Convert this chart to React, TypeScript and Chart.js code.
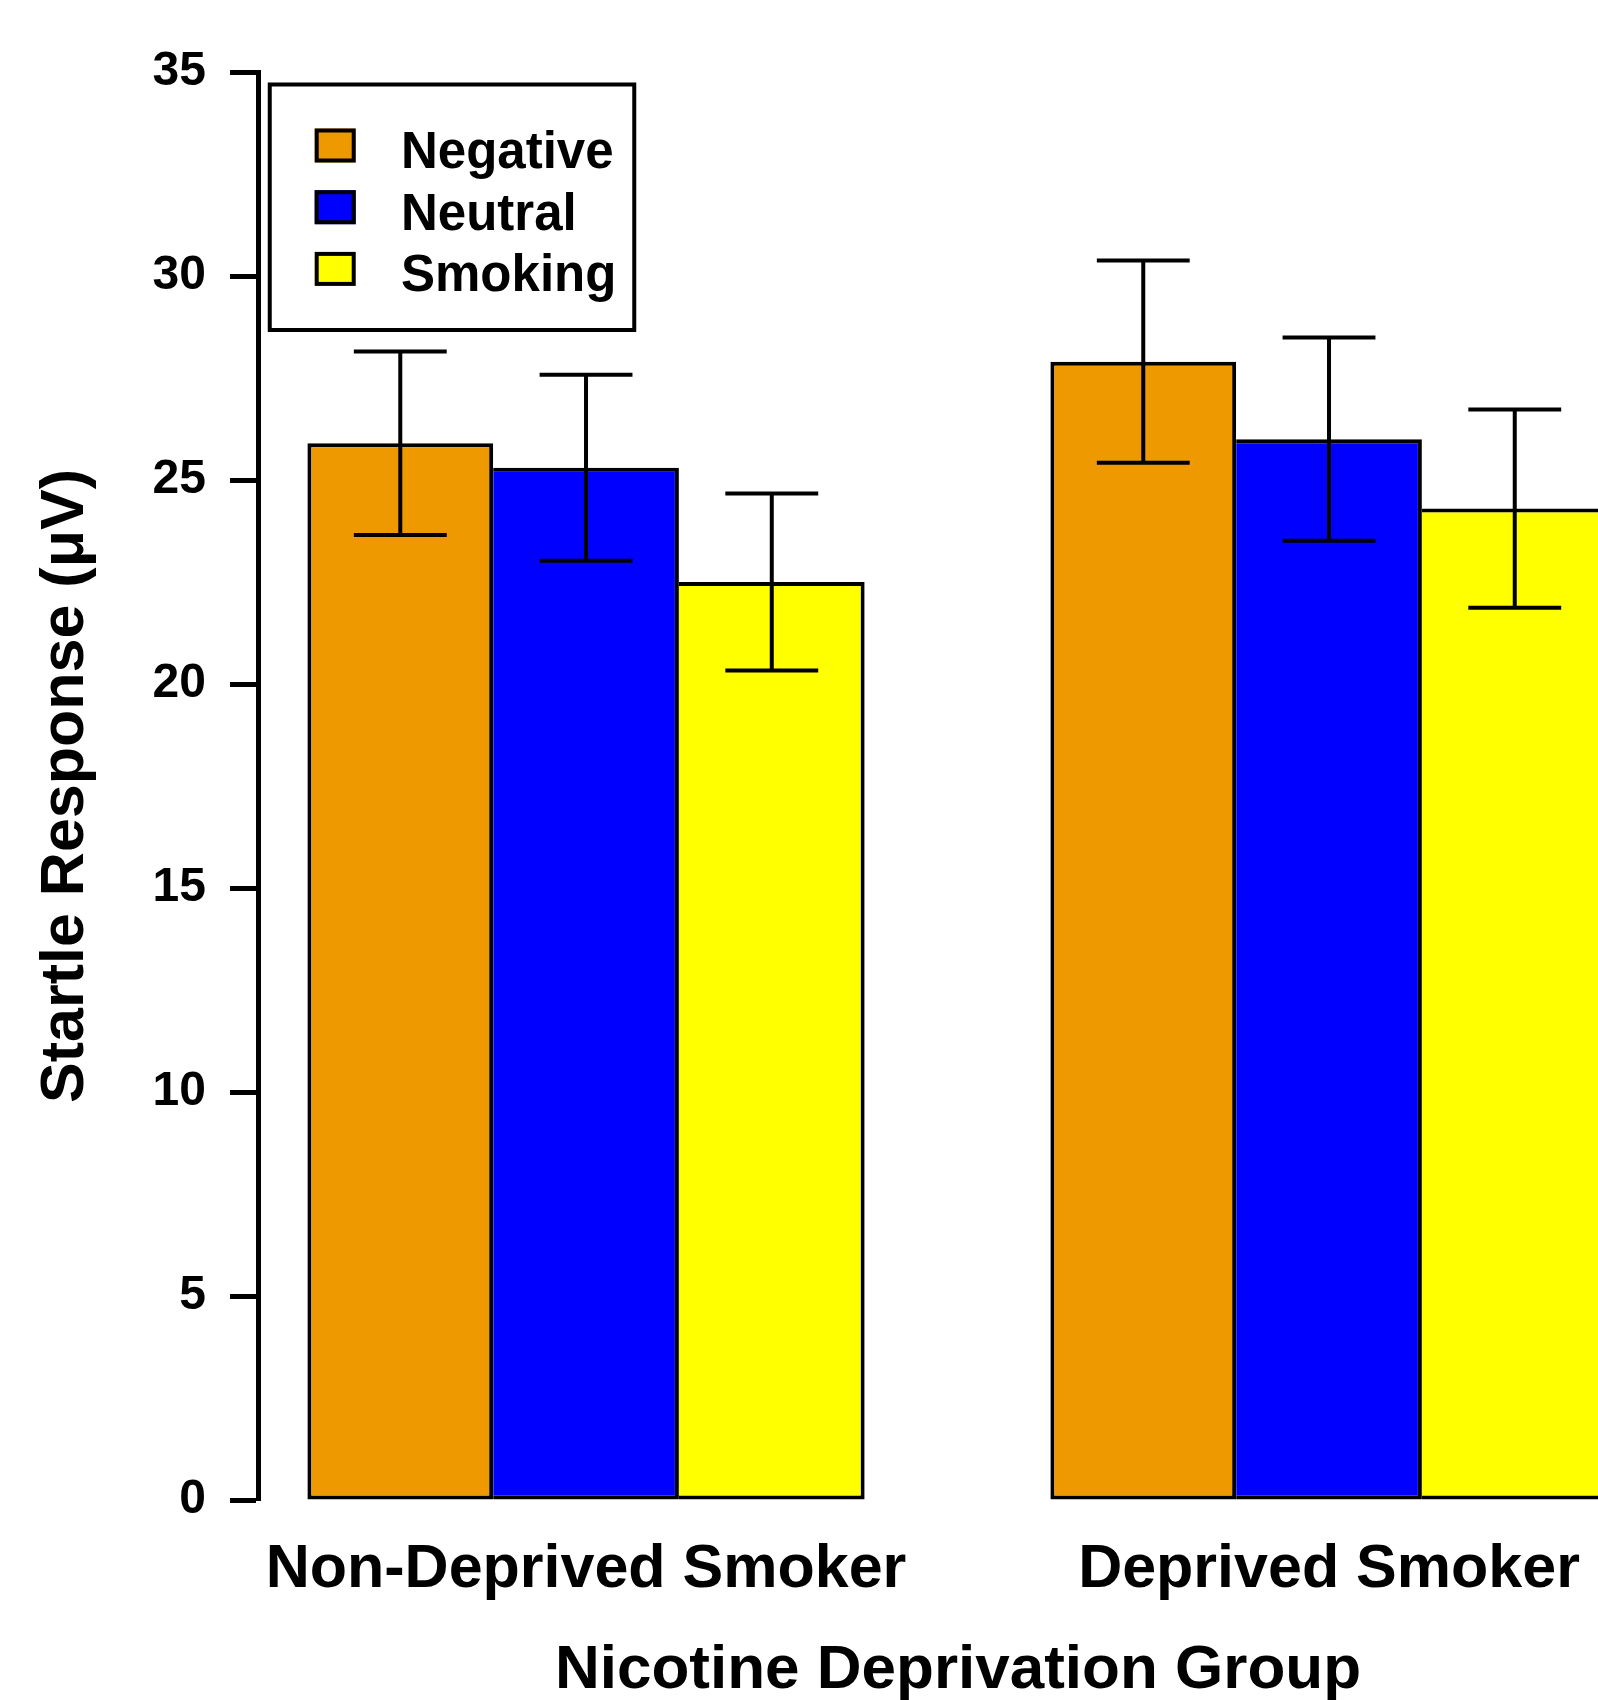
import { useEffect, useRef } from 'react';
import { Chart, registerables } from 'chart.js';

Chart.register(...registerables);

const categories = ['Non-Deprived Smoker', 'Deprived Smoker'];
const seriesLabels = ['Negative', 'Neutral', 'Smoking'];
const negativeMeans = [25.9, 27.9];
const neutralMeans = [25.3, 26.0];
const smokingMeans = [22.5, 24.3];
const negativeErrors = [2.25, 2.48];
const neutralErrors = [2.28, 2.49];
const smokingErrors = [2.17, 2.43];
const seriesColors = ['#EE9900', '#0000FF', '#FFFF00'];
const yAxisTitle = 'Startle Response (μV)';
const xAxisTitle = 'Nicotine Deprivation Group';

const meansBySeries = [negativeMeans, neutralMeans, smokingMeans];
const errorsBySeries = [negativeErrors, neutralErrors, smokingErrors];

const FONT = "'Liberation Sans', Arial, Helvetica, sans-serif";

const errorBarPlugin = {
  id: 'errorBars',
  afterDatasetsDraw(chart: any) {
    const ctx = chart.ctx;
    const yScale = chart.scales.y;
    ctx.save();
    ctx.strokeStyle = '#000';
    ctx.lineWidth = 4;
    chart.data.datasets.forEach((ds: any, di: number) => {
      const meta = chart.getDatasetMeta(di);
      const errs = errorsBySeries[di];
      meta.data.forEach((bar: any, i: number) => {
        const v = ds.data[i].y;
        const e = errs[i];
        const yTop = yScale.getPixelForValue(v + e);
        const yBot = yScale.getPixelForValue(v - e);
        const half = bar.width / 4;
        ctx.beginPath();
        ctx.moveTo(bar.x, yTop);
        ctx.lineTo(bar.x, yBot);
        ctx.moveTo(bar.x - half, yTop);
        ctx.lineTo(bar.x + half, yTop);
        ctx.moveTo(bar.x - half, yBot);
        ctx.lineTo(bar.x + half, yBot);
        ctx.stroke();
      });
    });
    ctx.restore();
  },
};

const boxLegendPlugin = {
  id: 'boxLegend',
  afterDraw(chart: any) {
    const ctx = chart.ctx;
    const { left, top } = chart.chartArea;
    const bx = left + 11.75;
    const by = top + 12.5;
    ctx.save();
    ctx.fillStyle = '#fff';
    ctx.fillRect(bx, by, 364.5, 245.5);
    ctx.lineWidth = 4;
    ctx.strokeStyle = '#000';
    ctx.strokeRect(bx, by, 364.5, 245.5);
    chart.data.datasets.forEach((ds: any, k: number) => {
      const sy = top + 56.5 + k * 61.7;
      const sx = left + 56.7;
      ctx.fillStyle = ds.backgroundColor;
      ctx.fillRect(sx, sy, 41, 34);
      ctx.lineWidth = 4;
      ctx.strokeStyle = '#000';
      ctx.strokeRect(sx + 2, sy + 2, 37, 30);
      ctx.fillStyle = '#000';
      ctx.font = `bold 51px ${FONT}`;
      ctx.textAlign = 'left';
      ctx.textBaseline = 'alphabetic';
      ctx.fillText(ds.label, left + 143, top + 96 + k * 61.7);
    });
    ctx.restore();
  },
};

export default function App() {
  const canvasRef = useRef<HTMLCanvasElement | null>(null);

  useEffect(() => {
    document.body.style.margin = '0';
    const canvas = canvasRef.current;
    if (!canvas) return;
    const chart = new Chart(canvas, {
      type: 'bar',
      data: {
        datasets: seriesLabels.map((label, k) => ({
          label,
          data: meansBySeries[k].map((v, i) => ({ x: i, y: v })),
          backgroundColor: seriesColors[k],
          borderColor: '#000',
          borderWidth: 4,
          borderSkipped: k === 0 ? false : 'left',
          categoryPercentage: 0.75,
          barPercentage: 1,
        })) as any,
      },
      options: {
        responsive: false,
        animation: false,
        devicePixelRatio: 1,
        layout: { padding: { left: 0, top: 72, right: 2, bottom: 0 } },
        plugins: {
          legend: { display: false },
          tooltip: { enabled: false },
          title: { display: false },
        },
        scales: {
          x: {
            type: 'linear',
            min: -0.4415,
            max: 1.4428,
            offset: false,
            afterBuildTicks: (s: any) => {
              s.ticks = categories.map((_, i) => ({ value: i }));
            },
            afterFit: (s: any) => {
              s.height = 200;
            },
            ticks: {
              callback: (v: any) => categories[v] ?? '',
              color: '#000',
              font: { family: FONT, size: 61, weight: 'bold' },
              padding: 34,
              maxRotation: 0,
              autoSkip: false,
            },
            grid: { display: false, drawTicks: false },
            border: { display: false },
            title: {
              display: true,
              text: xAxisTitle,
              color: '#000',
              font: { family: FONT, size: 62, weight: 'bold', lineHeight: 1 },
              padding: { top: 0, bottom: -2 },
            },
          },
          y: {
            min: 0,
            max: 35,
            afterFit: (s: any) => {
              s.width = 258;
            },
            ticks: {
              stepSize: 5,
              color: '#000',
              font: { family: FONT, size: 48, weight: 'bold' },
              padding: 24,
            },
            grid: {
              display: true,
              drawOnChartArea: false,
              drawTicks: true,
              tickLength: 28,
              tickWidth: 5,
              tickColor: '#000',
            },
            border: { display: true, color: '#000', width: 5 },
            title: {
              display: true,
              text: yAxisTitle,
              color: '#000',
              font: { family: FONT, size: 61, weight: 'bold' },
              padding: { top: 30, bottom: 0 },
            },
          },
        },
      } as any,
      plugins: [errorBarPlugin, boxLegendPlugin],
    });
    return () => chart.destroy();
  }, []);

  return (
    <div style={{ width: 1598, height: 1700, overflow: 'hidden', position: 'relative', background: '#fff' }}>
      <canvas ref={canvasRef} width={1660} height={1700} style={{ display: 'block', width: 1660, height: 1700 }} />
    </div>
  );
}
